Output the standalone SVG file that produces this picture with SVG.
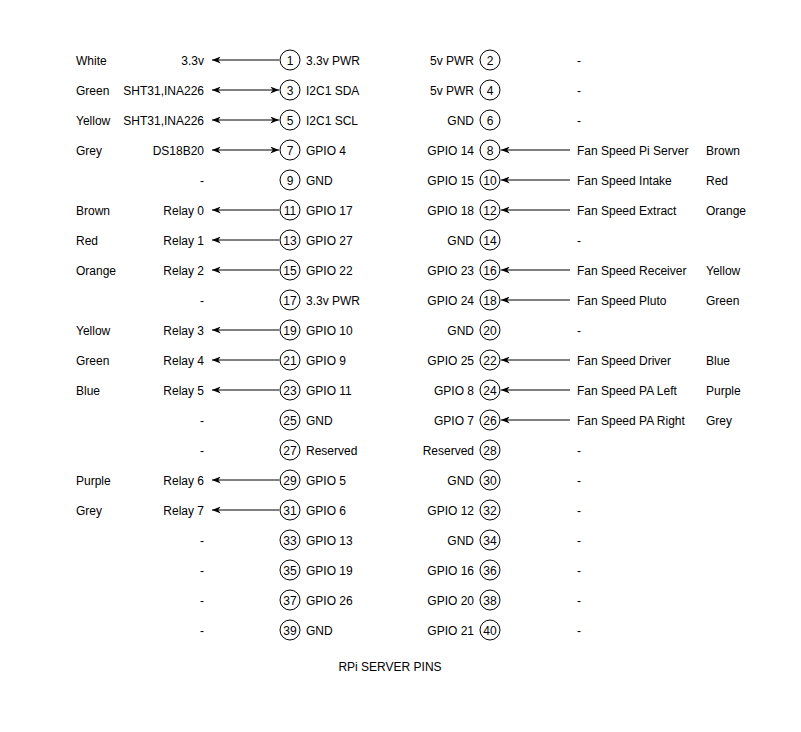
<svg xmlns="http://www.w3.org/2000/svg" width="801" height="732" viewBox="0 0 801 732">
<style>
text{font-family:"Liberation Sans",Arial,sans-serif;font-size:12px;fill:#000}
.m{text-anchor:middle}.e{text-anchor:end}
circle{fill:#fff;stroke:#000;stroke-width:1}
line{stroke:#000;stroke-width:1}
</style>
<defs>
<marker id="a" viewBox="0 0 10 8" refX="10" refY="4" markerWidth="9" markerHeight="7" markerUnits="userSpaceOnUse" orient="auto-start-reverse"><path d="M0,0 L10,4 L0,8 L3,4 Z" fill="#000"/></marker>
</defs>
<rect width="801" height="732" fill="#fff"/>
<g id="connectors">
<line x1="279" y1="60" x2="212" y2="60" marker-end="url(#a)"/>
<line x1="279" y1="90" x2="212" y2="90" marker-start="url(#a)" marker-end="url(#a)"/>
<line x1="279" y1="120" x2="212" y2="120" marker-start="url(#a)" marker-end="url(#a)"/>
<line x1="279" y1="150" x2="212" y2="150" marker-start="url(#a)" marker-end="url(#a)"/>
<line x1="279" y1="210" x2="212" y2="210" marker-end="url(#a)"/>
<line x1="279" y1="240" x2="212" y2="240" marker-end="url(#a)"/>
<line x1="279" y1="270" x2="212" y2="270" marker-end="url(#a)"/>
<line x1="279" y1="330" x2="212" y2="330" marker-end="url(#a)"/>
<line x1="279" y1="360" x2="212" y2="360" marker-end="url(#a)"/>
<line x1="279" y1="390" x2="212" y2="390" marker-end="url(#a)"/>
<line x1="279" y1="480" x2="212" y2="480" marker-end="url(#a)"/>
<line x1="279" y1="510" x2="212" y2="510" marker-end="url(#a)"/>
<line x1="570" y1="150" x2="501" y2="150" marker-end="url(#a)"/>
<line x1="570" y1="180" x2="501" y2="180" marker-end="url(#a)"/>
<line x1="570" y1="210" x2="501" y2="210" marker-end="url(#a)"/>
<line x1="570" y1="270" x2="501" y2="270" marker-end="url(#a)"/>
<line x1="570" y1="300" x2="501" y2="300" marker-end="url(#a)"/>
<line x1="570" y1="360" x2="501" y2="360" marker-end="url(#a)"/>
<line x1="570" y1="390" x2="501" y2="390" marker-end="url(#a)"/>
<line x1="570" y1="420" x2="501" y2="420" marker-end="url(#a)"/>
</g>
<g id="pins-odd">
<g id="pin1"><circle cx="290" cy="60" r="10"/><text class="m" x="290" y="65">1</text><text x="306" y="65">3.3v PWR</text></g>
<g id="pin3"><circle cx="290" cy="90" r="10"/><text class="m" x="290" y="95">3</text><text x="306" y="95">I2C1 SDA</text></g>
<g id="pin5"><circle cx="290" cy="120" r="10"/><text class="m" x="290" y="125">5</text><text x="306" y="125">I2C1 SCL</text></g>
<g id="pin7"><circle cx="290" cy="150" r="10"/><text class="m" x="290" y="155">7</text><text x="306" y="155">GPIO 4</text></g>
<g id="pin9"><circle cx="290" cy="180" r="10"/><text class="m" x="290" y="185">9</text><text x="306" y="185">GND</text></g>
<g id="pin11"><circle cx="290" cy="210" r="10"/><text class="m" x="290" y="215">11</text><text x="306" y="215">GPIO 17</text></g>
<g id="pin13"><circle cx="290" cy="240" r="10"/><text class="m" x="290" y="245">13</text><text x="306" y="245">GPIO 27</text></g>
<g id="pin15"><circle cx="290" cy="270" r="10"/><text class="m" x="290" y="275">15</text><text x="306" y="275">GPIO 22</text></g>
<g id="pin17"><circle cx="290" cy="300" r="10"/><text class="m" x="290" y="305">17</text><text x="306" y="305">3.3v PWR</text></g>
<g id="pin19"><circle cx="290" cy="330" r="10"/><text class="m" x="290" y="335">19</text><text x="306" y="335">GPIO 10</text></g>
<g id="pin21"><circle cx="290" cy="360" r="10"/><text class="m" x="290" y="365">21</text><text x="306" y="365">GPIO 9</text></g>
<g id="pin23"><circle cx="290" cy="390" r="10"/><text class="m" x="290" y="395">23</text><text x="306" y="395">GPIO 11</text></g>
<g id="pin25"><circle cx="290" cy="420" r="10"/><text class="m" x="290" y="425">25</text><text x="306" y="425">GND</text></g>
<g id="pin27"><circle cx="290" cy="450" r="10"/><text class="m" x="290" y="455">27</text><text x="306" y="455">Reserved</text></g>
<g id="pin29"><circle cx="290" cy="480" r="10"/><text class="m" x="290" y="485">29</text><text x="306" y="485">GPIO 5</text></g>
<g id="pin31"><circle cx="290" cy="510" r="10"/><text class="m" x="290" y="515">31</text><text x="306" y="515">GPIO 6</text></g>
<g id="pin33"><circle cx="290" cy="540" r="10"/><text class="m" x="290" y="545">33</text><text x="306" y="545">GPIO 13</text></g>
<g id="pin35"><circle cx="290" cy="570" r="10"/><text class="m" x="290" y="575">35</text><text x="306" y="575">GPIO 19</text></g>
<g id="pin37"><circle cx="290" cy="600" r="10"/><text class="m" x="290" y="605">37</text><text x="306" y="605">GPIO 26</text></g>
<g id="pin39"><circle cx="290" cy="630" r="10"/><text class="m" x="290" y="635">39</text><text x="306" y="635">GND</text></g>
</g>
<g id="pins-even">
<g id="pin2"><circle cx="490" cy="60" r="10"/><text class="m" x="490" y="65">2</text><text class="e" x="474" y="65">5v PWR</text></g>
<g id="pin4"><circle cx="490" cy="90" r="10"/><text class="m" x="490" y="95">4</text><text class="e" x="474" y="95">5v PWR</text></g>
<g id="pin6"><circle cx="490" cy="120" r="10"/><text class="m" x="490" y="125">6</text><text class="e" x="474" y="125">GND</text></g>
<g id="pin8"><circle cx="490" cy="150" r="10"/><text class="m" x="490" y="155">8</text><text class="e" x="474" y="155">GPIO 14</text></g>
<g id="pin10"><circle cx="490" cy="180" r="10"/><text class="m" x="490" y="185">10</text><text class="e" x="474" y="185">GPIO 15</text></g>
<g id="pin12"><circle cx="490" cy="210" r="10"/><text class="m" x="490" y="215">12</text><text class="e" x="474" y="215">GPIO 18</text></g>
<g id="pin14"><circle cx="490" cy="240" r="10"/><text class="m" x="490" y="245">14</text><text class="e" x="474" y="245">GND</text></g>
<g id="pin16"><circle cx="490" cy="270" r="10"/><text class="m" x="490" y="275">16</text><text class="e" x="474" y="275">GPIO 23</text></g>
<g id="pin18"><circle cx="490" cy="300" r="10"/><text class="m" x="490" y="305">18</text><text class="e" x="474" y="305">GPIO 24</text></g>
<g id="pin20"><circle cx="490" cy="330" r="10"/><text class="m" x="490" y="335">20</text><text class="e" x="474" y="335">GND</text></g>
<g id="pin22"><circle cx="490" cy="360" r="10"/><text class="m" x="490" y="365">22</text><text class="e" x="474" y="365">GPIO 25</text></g>
<g id="pin24"><circle cx="490" cy="390" r="10"/><text class="m" x="490" y="395">24</text><text class="e" x="474" y="395">GPIO 8</text></g>
<g id="pin26"><circle cx="490" cy="420" r="10"/><text class="m" x="490" y="425">26</text><text class="e" x="474" y="425">GPIO 7</text></g>
<g id="pin28"><circle cx="490" cy="450" r="10"/><text class="m" x="490" y="455">28</text><text class="e" x="474" y="455">Reserved</text></g>
<g id="pin30"><circle cx="490" cy="480" r="10"/><text class="m" x="490" y="485">30</text><text class="e" x="474" y="485">GND</text></g>
<g id="pin32"><circle cx="490" cy="510" r="10"/><text class="m" x="490" y="515">32</text><text class="e" x="474" y="515">GPIO 12</text></g>
<g id="pin34"><circle cx="490" cy="540" r="10"/><text class="m" x="490" y="545">34</text><text class="e" x="474" y="545">GND</text></g>
<g id="pin36"><circle cx="490" cy="570" r="10"/><text class="m" x="490" y="575">36</text><text class="e" x="474" y="575">GPIO 16</text></g>
<g id="pin38"><circle cx="490" cy="600" r="10"/><text class="m" x="490" y="605">38</text><text class="e" x="474" y="605">GPIO 20</text></g>
<g id="pin40"><circle cx="490" cy="630" r="10"/><text class="m" x="490" y="635">40</text><text class="e" x="474" y="635">GPIO 21</text></g>
</g>
<g id="left-devices">
<text class="e" x="204" y="65">3.3v</text>
<text class="e" x="204" y="95">SHT31,INA226</text>
<text class="e" x="204" y="125">SHT31,INA226</text>
<text class="e" x="204" y="155">DS18B20</text>
<text class="e" x="204" y="185">-</text>
<text class="e" x="204" y="215">Relay 0</text>
<text class="e" x="204" y="245">Relay 1</text>
<text class="e" x="204" y="275">Relay 2</text>
<text class="e" x="204" y="305">-</text>
<text class="e" x="204" y="335">Relay 3</text>
<text class="e" x="204" y="365">Relay 4</text>
<text class="e" x="204" y="395">Relay 5</text>
<text class="e" x="204" y="425">-</text>
<text class="e" x="204" y="455">-</text>
<text class="e" x="204" y="485">Relay 6</text>
<text class="e" x="204" y="515">Relay 7</text>
<text class="e" x="204" y="545">-</text>
<text class="e" x="204" y="575">-</text>
<text class="e" x="204" y="605">-</text>
<text class="e" x="204" y="635">-</text>
</g>
<g id="left-colours">
<text x="76" y="65">White</text>
<text x="76" y="95">Green</text>
<text x="76" y="125">Yellow</text>
<text x="76" y="155">Grey</text>
<text x="76" y="215">Brown</text>
<text x="76" y="245">Red</text>
<text x="76" y="275">Orange</text>
<text x="76" y="335">Yellow</text>
<text x="76" y="365">Green</text>
<text x="76" y="395">Blue</text>
<text x="76" y="485">Purple</text>
<text x="76" y="515">Grey</text>
</g>
<g id="right-devices">
<text x="577" y="65">-</text>
<text x="577" y="95">-</text>
<text x="577" y="125">-</text>
<text x="577" y="155">Fan Speed Pi Server</text>
<text x="577" y="185">Fan Speed Intake</text>
<text x="577" y="215">Fan Speed Extract</text>
<text x="577" y="245">-</text>
<text x="577" y="275">Fan Speed Receiver</text>
<text x="577" y="305">Fan Speed Pluto</text>
<text x="577" y="335">-</text>
<text x="577" y="365">Fan Speed Driver</text>
<text x="577" y="395">Fan Speed PA Left</text>
<text x="577" y="425">Fan Speed PA Right</text>
<text x="577" y="455">-</text>
<text x="577" y="485">-</text>
<text x="577" y="515">-</text>
<text x="577" y="545">-</text>
<text x="577" y="575">-</text>
<text x="577" y="605">-</text>
<text x="577" y="635">-</text>
</g>
<g id="right-colours">
<text x="706" y="155">Brown</text>
<text x="706" y="185">Red</text>
<text x="706" y="215">Orange</text>
<text x="706" y="275">Yellow</text>
<text x="706" y="305">Green</text>
<text x="706" y="365">Blue</text>
<text x="706" y="395">Purple</text>
<text x="706" y="425">Grey</text>
</g>
<g id="title"><text class="m" x="390" y="671">RPi SERVER PINS</text></g>
</svg>
